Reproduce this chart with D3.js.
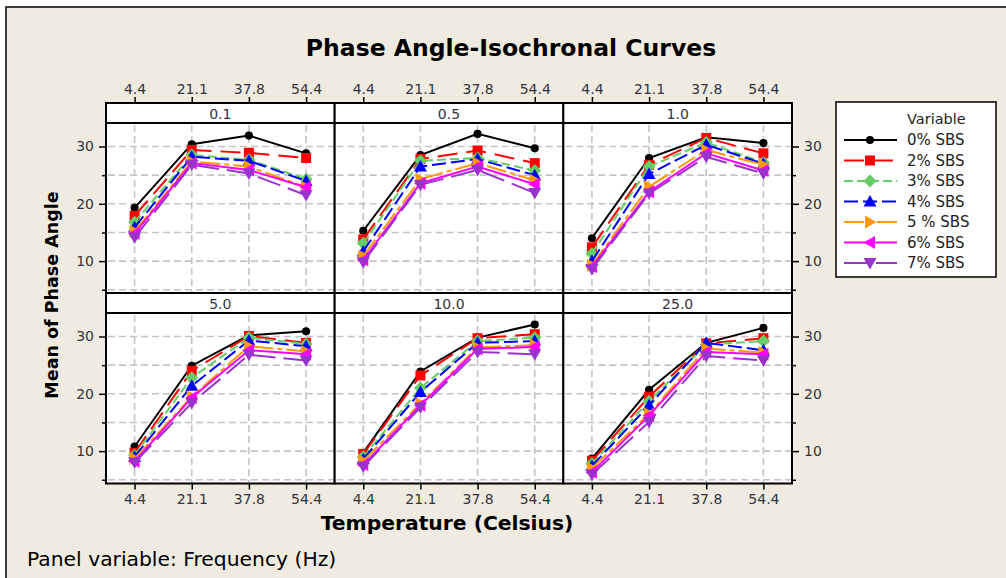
<!DOCTYPE html>
<html>
<head>
<meta charset="utf-8">
<script src="https://cdn.jsdelivr.net/npm/d3@7/dist/d3.min.js"></script>
<style>
  html, body { margin: 0; padding: 0; background: #ffffff; }
  svg { display: block; font-family: "DejaVu Sans", Verdana, sans-serif; }
</style>
</head>
<body>
<svg id="chart" width="1006" height="578"></svg>
<script>
// Temperatures (x categories) and frequencies (panels)
const temps = ["4.4", "21.1", "37.8", "54.4"];
const frequencies = ["0.1", "0.5", "1.0", "5.0", "10.0", "25.0"];
const seriesNames = ["0% SBS", "2% SBS", "3% SBS", "4% SBS", "5 % SBS", "6% SBS", "7% SBS"];
const yMajorTicks = [10, 20, 30];
const yMinorTicks = [5, 15, 25];

// Mean phase angle, four temperatures per frequency panel, panels in order above
const sbs0 = [19.3, 30.4, 31.9, 28.8,  15.3, 28.5, 32.2, 29.7,  14.0, 28.0, 31.6, 30.6,
              10.8, 24.9, 30.2, 30.9,   9.7, 23.9, 29.8, 32.1,   8.7, 20.7, 28.9, 31.5];
const sbs2 = [17.9, 29.4, 28.9, 28.0,  13.8, 27.8, 29.3, 27.1,  12.4, 26.8, 31.5, 28.8,
               9.7, 24.0, 30.1, 28.9,   9.5, 23.2, 29.7, 30.4,   8.3, 19.5, 28.8, 29.7];
const sbs3 = [16.8, 28.5, 27.7, 24.3,  13.1, 27.5, 28.0, 25.8,  11.3, 26.5, 30.7, 27.2,
               9.3, 22.8, 29.8, 28.7,   9.0, 21.0, 29.2, 29.8,   7.8, 18.7, 28.6, 29.2];
const sbs4 = [15.9, 28.2, 27.5, 24.0,  11.7, 26.5, 27.8, 25.0,  10.0, 25.2, 30.3, 27.0,
               9.0, 21.4, 29.3, 28.3,   8.6, 20.3, 28.9, 29.2,   7.4, 18.0, 28.9, 27.6];
const sbs5 = [15.2, 27.4, 26.5, 22.9,  10.9, 24.3, 27.1, 24.1,   9.3, 23.0, 29.4, 26.8,
               8.7, 19.5, 28.3, 27.4,   8.3, 18.3, 28.1, 28.5,   7.0, 16.5, 27.9, 27.2];
const sbs6 = [14.8, 27.1, 25.9, 22.9,  10.2, 23.6, 26.5, 23.4,   9.0, 22.1, 28.8, 25.8,
               8.2, 19.3, 27.6, 26.9,   7.6, 18.0, 27.8, 28.2,   6.3, 16.2, 27.3, 26.9];
const sbs7 = [14.1, 26.8, 25.3, 21.5,   9.8, 23.3, 25.9, 21.9,   8.6, 21.8, 28.2, 25.3,
               8.0, 18.4, 26.8, 25.8,   7.3, 17.6, 27.3, 26.9,   5.9, 15.1, 26.6, 25.8];
const seriesValues = [sbs0, sbs2, sbs3, sbs4, sbs5, sbs6, sbs7];

// Series styling
const colors = ["#000000", "#ff0000", "#66cc66", "#0000ff", "#ff9900", "#ff00ff", "#9933cc"];
const dashes = [null, "20,9", "9,4", "14,5", "20,4,5,4", null, "24,8"];
const shapes = ["circle", "square", "diamond", "tri-up", "tri-right", "tri-left", "tri-down"];

function markerPath(shape) {
  switch (shape) {
    case "circle": return d3.symbol(d3.symbolCircle, 52)();
    case "square": return "M-5,-5H5V5H-5Z";
    case "diamond": return "M0,-6.5L6.5,0L0,6.5L-6.5,0Z";
    default: return "M0,-6.5L6.5,5L-6.5,5Z";
  }
}
function markerRotate(shape) {
  return { "tri-right": 90, "tri-left": -90, "tri-down": 180 }[shape] || 0;
}

const svg = d3.select("#chart");
const W = 1006, H = 578;

// Background frame
svg.append("rect").attr("x", 0).attr("y", 0).attr("width", W).attr("height", H).attr("fill", "#ffffff");
svg.append("rect").attr("x", 6).attr("y", 7).attr("width", W - 6).attr("height", H - 7).attr("fill", "#efebe1");
svg.append("path").attr("d", `M6,${H}V7H${W}`).attr("fill", "none").attr("stroke", "#000").attr("stroke-width", 1.5);

// Panel geometry
const gridLeft = 106, gridRight = 792;
const colW = (gridRight - gridLeft) / 3;
const rowTops = [103, 293];
const stripH = 20, plotH = 170.5;

const x = d3.scalePoint().domain(temps).range([0, colW]).padding(0.5);
const yDomain = [4.35, 34.1];

const tickColor = "#333340";
const tickFont = 14;

function styleAxis(ax) {
  ax.attr("font-family", "DejaVu Sans, Verdana, sans-serif").attr("font-size", tickFont);
  ax.select(".domain").remove();
  ax.selectAll("line").attr("stroke", "#000").attr("stroke-width", 1.5);
  ax.selectAll("text").attr("fill", tickColor);
}

frequencies.forEach((freq, p) => {
  const col = p % 3, row = Math.floor(p / 3);
  const px = gridLeft + col * colW;
  const stripTop = rowTops[row];
  const plotTop = stripTop + stripH;
  const y = d3.scaleLinear().domain(yDomain).range([plotTop + plotH, plotTop]);
  const g = svg.append("g");

  // Plot background
  g.append("rect").attr("x", px).attr("y", plotTop).attr("width", colW).attr("height", plotH).attr("fill", "#ffffff");

  // Dashed grid
  const grid = g.append("g").attr("stroke", "#c4c4c4").attr("stroke-width", 1.6).attr("stroke-dasharray", "7,4");
  temps.forEach(t => {
    grid.append("line").attr("x1", px + x(t)).attr("x2", px + x(t)).attr("y1", plotTop + 2).attr("y2", plotTop + plotH);
  });
  yMajorTicks.concat(yMinorTicks).forEach(v => {
    grid.append("line").attr("x1", px + 2).attr("x2", px + colW).attr("y1", y(v)).attr("y2", y(v));
  });

  // Series lines and markers
  seriesValues.forEach((vals, s) => {
    const pts = temps.map((t, i) => [px + x(t), y(vals[p * 4 + i])]);
    g.append("path")
      .attr("d", d3.line()(pts))
      .attr("fill", "none")
      .attr("stroke", colors[s])
      .attr("stroke-width", 2)
      .attr("stroke-dasharray", dashes[s]);
    pts.forEach(pt => {
      g.append("path")
        .attr("d", markerPath(shapes[s]))
        .attr("transform", `translate(${pt[0]},${pt[1]}) rotate(${markerRotate(shapes[s])})`)
        .attr("fill", colors[s]);
    });
  });

  // Panel border
  g.append("rect").attr("x", px).attr("y", plotTop).attr("width", colW).attr("height", plotH)
    .attr("fill", "none").attr("stroke", "#000").attr("stroke-width", 2);

  // Strip with frequency label
  g.append("rect").attr("x", px).attr("y", stripTop).attr("width", colW).attr("height", stripH)
    .attr("fill", "#ffffff").attr("stroke", "#000").attr("stroke-width", 2);
  g.append("text").attr("x", px + colW / 2).attr("y", stripTop + 15.5)
    .attr("text-anchor", "middle").attr("font-size", tickFont).attr("fill", tickColor).text(freq);

  // Temperature axis: top of the upper row, bottom of the lower row
  if (row === 0) {
    styleAxis(svg.append("g").attr("transform", `translate(${px},${stripTop})`)
      .call(d3.axisTop(x).tickSize(6).tickPadding(3)));
  } else {
    styleAxis(svg.append("g").attr("transform", `translate(${px},${plotTop + plotH})`)
      .call(d3.axisBottom(x).tickSize(6).tickPadding(5)));
  }

  // Phase angle axes on the outer columns
  if (col === 0 || col === 2) {
    const left = col === 0;
    const axisFn = left ? d3.axisLeft : d3.axisRight;
    styleAxis(svg.append("g").attr("transform", `translate(${left ? px : px + colW},0)`)
      .call(axisFn(y).tickValues(yMajorTicks).tickSize(7).tickPadding(5)));
    styleAxis(svg.append("g").attr("transform", `translate(${left ? px : px + colW},0)`)
      .call(axisFn(y).tickValues(yMinorTicks).tickSize(4).tickFormat("")));
  }
});

// Titles
svg.append("text").attr("x", 511).attr("y", 56).attr("text-anchor", "middle")
  .attr("font-size", 23.5).attr("font-weight", "bold").attr("fill", "#000")
  .text("Phase Angle-Isochronal Curves");
svg.append("text").attr("x", 447).attr("y", 530).attr("text-anchor", "middle")
  .attr("font-size", 20.3).attr("font-weight", "bold").attr("fill", "#000")
  .text("Temperature (Celsius)");
svg.append("text").attr("transform", "translate(58,295) rotate(-90)").attr("text-anchor", "middle")
  .attr("font-size", 17.5).attr("font-weight", "bold").attr("fill", "#000")
  .text("Mean of Phase Angle");
svg.append("text").attr("x", 27).attr("y", 566)
  .attr("font-size", 20.3).attr("fill", "#000")
  .text("Panel variable: Frequency (Hz)");

// Legend
const lg = svg.append("g");
lg.append("rect").attr("x", 836).attr("y", 102).attr("width", 160).attr("height", 175)
  .attr("fill", "#ffffff").attr("stroke", "#000").attr("stroke-width", 1.5);
lg.append("text").attr("x", 907).attr("y", 124).attr("font-size", 14.5).attr("fill", "#222").text("Variable");
seriesNames.forEach((name, s) => {
  const cy = 140 + s * 20.5;
  lg.append("line").attr("x1", 844).attr("x2", 897).attr("y1", cy).attr("y2", cy)
    .attr("stroke", colors[s]).attr("stroke-width", 2).attr("stroke-dasharray", dashes[s]);
  lg.append("path").attr("d", markerPath(shapes[s]))
    .attr("transform", `translate(870,${cy}) rotate(${markerRotate(shapes[s])})`)
    .attr("fill", colors[s]);
  lg.append("text").attr("x", 907).attr("y", cy + 5).attr("font-size", 15).attr("fill", "#222").text(name);
});
</script>
</body>
</html>
